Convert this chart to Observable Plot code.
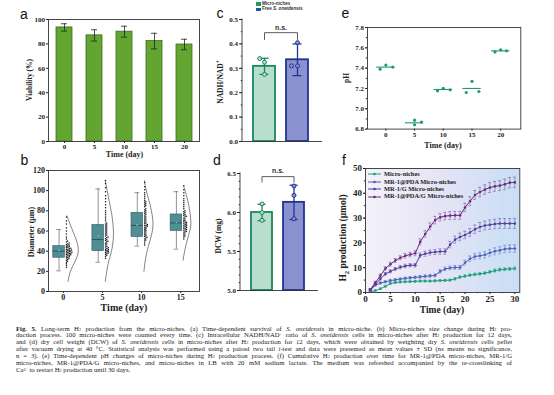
<!DOCTYPE html>
<html><head><meta charset="utf-8">
<script src="https://cdn.jsdelivr.net/npm/d3@7"></script>
<script src="https://cdn.jsdelivr.net/npm/@observablehq/plot@0.6"></script>
<style>
body{margin:0;background:#fff;}
#root{position:relative;width:554px;height:395px;overflow:hidden;font-family:"Liberation Serif",serif;color:#222;}
.plab{position:absolute;font-family:"Liberation Sans",Arial,sans-serif;font-size:14px;line-height:1;color:#111;}
.ax{position:absolute;font-family:"Liberation Serif",serif;font-weight:bold;white-space:nowrap;line-height:1;color:#222;}
.rot{transform:translate(-50%,-50%) rotate(-90deg);}
.cen{transform:translate(-50%,-50%);}
.leg{position:absolute;white-space:nowrap;line-height:1;}
.cap{position:absolute;left:16px;top:325.5px;width:496px;font-family:"Liberation Serif",serif;font-size:6.7px;line-height:6.95px;color:#222;}
.cap div{white-space:nowrap;text-align:justify;text-align-last:justify;height:6.95px;overflow:visible;}
.cap div.last{text-align-last:left;}
.cap .sb{font-size:0.62em;line-height:0;vertical-align:-0.12em;}
.cap .sp{font-size:0.62em;line-height:0;vertical-align:0.32em;}
</style></head><body><div id="root"></div>
<script>
// ---------- data ----------
// (a) viability
const aDays = ["0", "5", "10", "15", "20"];
const aViability = [93.5, 87, 90, 82.3, 79.5];
const aViabilitySD = [3, 4.6, 4.5, 6.4, 4.3];

// (b) diameter box stats
const bDays = [0, 5, 10, 15];
const bQ1 = [33.5, 40, 54, 60];
const bMedian = [40, 51.5, 65.5, 68];
const bQ3 = [45, 66, 78, 76.4];
const bWhiskLo = [20.5, 29, 45, 42];
const bWhiskHi = [61.5, 101.7, 98, 99];
const bMean = [41, 55, 66, 68.5];
// (b) individual diameters (µm)
const bDiam0 = [24,26,27.5,29,30,31,32,32.6,33.3,33.8,34.4,35,35.5,36,36.4,36.8,37.2,37.6,38,38.3,38.7,39,39.4,39.8,40.1,40.5,40.9,41.2,41.6,42,42.4,42.8,43.3,43.8,44.3,44.8,45.4,46,46.6,47.2,48,49,50,52,54,57,60,63,67,70,74];
const bDiam5 = [33,35,36,37,37.6,38.2,38.8,39.3,39.8,40.3,40.8,41.4,42,42.7,43.4,44.2,45,46,47,48,49,49.8,50.6,51.4,52.3,53.2,54,55,56,57,58,59,60,61,62,63,64,65,66,67,68,70,72,74,76,78,80,83,86,89,92,95,99,103,107,110];
const bDiam10 = [46,48,50,51,52,53,53.8,54.6,55.4,56.2,57,58,59,60,60.8,61.6,62.4,63.2,64,64.6,65.2,65.8,66.5,67.2,68,69,70,71,72,73,74,75,76,77,78,79,80,81,82,84,85,86,87,88,89,90,92,94,96,98,101,104,108];
const bDiam15 = [52,54,55,56,57,58,59,59.6,60.3,61,61.6,62.2,62.8,63.4,64,64.6,65.2,65.8,66.4,67,67.6,68.2,68.8,69.5,70.2,71,72,73,74,74.6,75.3,76,77,78,79,80,82,84,86,88,90,92,95,98,101,105];
// (b) fitted distribution curves: diameter vs relative density
const bCurve0Y = [10,20,30,40,50,60,70,75];
const bCurve0D = [0.3,0.6,1.2,1.6,1.4,0.9,0.4,0.15];
const bCurve5Y = [10,20,30,40,55,70,80,90,100,110];
const bCurve5D = [0.05,0.25,0.5,0.85,1.1,1.0,0.8,0.55,0.3,0.05];
const bCurve10Y = [20,30,40,50,65,80,90,100,110];
const bCurve10D = [0,0.15,0.4,0.75,1.15,0.95,0.65,0.3,0.05];
const bCurve15Y = [31,40,50,60,68,80,90,100,105];
const bCurve15D = [0,0.2,0.5,0.85,1.0,0.85,0.6,0.25,0.05];

// (c) NADH/NAD+
const cGroups = ["Micro-niches", "Free S. oneidensis"];
const cMean = [0.308, 0.335];
const cSD = [0.033, 0.065];
const cPoints0 = [0.325, 0.275, 0.34];
const cPoints1 = [0.405, 0.31, 0.31];
const cBracket = [0.418, 0.446];

// (d) DCW
const dMean = [6.0, 6.13];
const dSD = [0.105, 0.22];
const dPoints0 = [6.11, 6.0, 5.9];
const dPoints1 = [6.34, 6.22, 5.92];
const dBracket = [6.39, 6.46];

// (e) pH
const eDays = [0, 5, 10, 15, 20];
const eMean = [7.41, 6.862, 7.19, 7.2, 7.57];
const eX = [[-1, 0, 1.2], [5, 5, 6.2], [9, 10, 11.2], [14, 15, 16.2], [19, 20, 21]];
const eY = [[7.39, 7.43, 7.41], [6.888, 6.843, 6.869], [7.177, 7.2, 7.187], [7.16, 7.27, 7.17], [7.56, 7.58, 7.57]];

// (f) cumulative H2
const fDays = [1,2,3,4,5,6,7,8,9,10,11,12,13,14,15,16,17,18,19,20,21,22,23,24,25,26,27,28,29,30];
const fSeries = ["Micro-niches", "MR-1@PDA Micro-niches", "MR-1/G Micro-niches", "MR-1@PDA/G Micro-niches"];
const fMicro = [0.3,0.8,1.5,2.5,3.6,4.0,4.2,4.3,4.4,4.5,4.6,4.6,4.6,4.7,4.8,4.9,5.0,5.5,6.2,6.6,7.0,7.3,7.5,7.8,8.3,8.8,9.2,9.4,9.5,9.7];
const fPDA = [1.0,3.0,3.8,4.3,4.8,5.1,5.4,5.7,5.9,6.1,6.3,6.5,6.7,6.9,8.5,9.5,9.9,10.1,10.1,12.0,13.6,14.5,14.8,15.2,16.0,16.6,17.0,17.5,17.7,17.7];
const fG = [1.0,3.3,5.5,7.5,8.5,9.5,10.2,10.7,11.0,11.0,15.0,15.6,16.1,16.3,16.5,16.5,19.3,21.3,22.4,23.2,24.2,25.5,26.4,27.0,27.3,27.6,27.8,27.8,27.8,27.8];
const fPDAG = [1.3,4.0,6.8,9.7,11.4,12.9,14.0,14.8,15.3,15.8,20.4,23.6,26.6,29.2,30.3,30.8,31.0,31.1,31.1,34.3,36.8,39.3,40.5,41.5,42.3,42.8,43.1,43.6,44.3,44.4];
const fMicroSD = [0.2,0.3,0.3,0.4,0.4,0.4,0.4,0.4,0.4,0.4,0.4,0.4,0.4,0.4,0.4,0.4,0.4,0.5,0.5,0.5,0.5,0.5,0.5,0.5,0.5,0.6,0.6,0.6,0.6,0.6];
const fPDASD = [0.3,0.4,0.5,0.5,0.5,0.5,0.5,0.5,0.5,0.5,0.6,0.6,0.6,0.6,0.7,0.7,0.7,0.8,0.8,1.0,1.1,1.2,1.2,1.3,1.3,1.4,1.4,1.5,1.5,1.5];
const fGSD = [0.3,0.4,0.5,0.6,0.6,0.6,0.7,0.7,0.7,0.7,0.9,1.0,1.0,1.0,1.1,1.1,1.3,1.4,1.5,1.5,1.6,1.7,1.8,1.8,1.9,1.9,2.0,2.0,2.0,2.0];
const fPDAGSD = [0.3,0.5,0.6,0.7,0.8,0.8,0.8,0.9,0.9,1.0,1.2,1.3,1.4,1.5,1.5,1.5,1.6,1.6,1.6,1.7,1.8,1.8,1.9,1.9,2.0,2.0,2.0,2.1,2.1,2.1];

// ---------- helpers ----------
const root = document.getElementById("root");
const NS = "http://www.w3.org/2000/svg";
function mount(frame, m, opts, style) {
  const [x0, y0, x1, y1] = frame; const [mt, mr, mb, ml] = m;
  const W = x1 - x0 + ml + mr, H = y1 - y0 + mt + mb;
  const svg = Plot.plot(Object.assign({}, opts, {
    width: W, height: H, marginTop: mt, marginRight: mr, marginBottom: mb, marginLeft: ml,
    style: Object.assign({background: "transparent", overflow: "visible", fontFamily: "'Liberation Serif', serif", fontWeight: "bold", fontSize: "7px", color: "#222"}, style || {})
  }));
  const div = document.createElement("div");
  div.style.cssText = `position:absolute;left:${x0 - ml}px;top:${y0 - mt}px;width:${W}px;height:${H}px;`;
  div.appendChild(svg); root.appendChild(div);
}
function html(cls, h, x, y, css) {
  const d = document.createElement("div");
  d.className = cls; d.innerHTML = h;
  d.style.left = x + "px"; d.style.top = y + "px";
  if (css) d.style.cssText += css;
  root.appendChild(d); return d;
}
function dodgeAt(data, opts, anchor, padding, target) {
  return Plot.dot(data, Plot.initializer(Plot.dodgeX({anchor, padding}, opts), (d, f, ch, scales, dims) => {
    const base = anchor === "left" ? dims.marginLeft : (dims.marginLeft + dims.width - dims.marginRight) / 2;
    const off = target(scales) - base;
    const X = ch.x.value ?? ch.x;
    return {data: d, facets: f, channels: {x: {value: Float64Array.from(X, v => v + off)}}};
  }));
}
function leftLine(stroke, sw) {
  return (index, scales, values, dims) => {
    const l = document.createElementNS(NS, "line");
    l.setAttribute("x1", dims.marginLeft); l.setAttribute("x2", dims.marginLeft);
    l.setAttribute("y1", dims.marginTop - 0.5); l.setAttribute("y2", dims.height - dims.marginBottom + 0.5);
    l.setAttribute("stroke", stroke); l.setAttribute("stroke-width", sw);
    return l;
  };
}
const range = (a, b, s) => d3.range(a, b + s / 2, s);
const minorY = (ticks) => Plot.axisY({ticks, tickSize: 1.2, tickFormat: () => "", label: null});
const minorX = (ticks) => Plot.axisX({ticks, tickSize: 1.2, tickFormat: () => "", label: null});

// ---------- (a) ----------
const aData = aDays.map((d, i) => ({day: d, v: aViability[i], sd: aViabilitySD[i]}));
mount([48, 19, 199, 141], [6, 6, 20, 30], {
  x: {type: "band", domain: aDays, paddingInner: 0.48, paddingOuter: 0.195},
  y: {domain: [0, 100]},
  marks: [
    Plot.barY(aData, {x: "day", y: "v", fill: "#63a531", stroke: "#3c6d1d", strokeWidth: 0.8}),
    Plot.ruleX(aData, {x: "day", y1: d => d.v - d.sd, y2: d => d.v + d.sd, stroke: "#222", strokeWidth: 0.8}),
    Plot.tickY(aData, {x: "day", y: d => d.v + d.sd, insetLeft: 5, insetRight: 5, stroke: "#222", strokeWidth: 0.8}),
    Plot.tickY(aData, {x: "day", y: d => d.v - d.sd, insetLeft: 5, insetRight: 5, stroke: "#222", strokeWidth: 0.8}),
    Plot.axisY({ticks: [0, 20, 40, 60, 80, 100], tickSize: 2, tickPadding: 1.5, label: null, fontSize: 7}),
    Plot.axisX({tickSize: 2, tickPadding: 1, label: null, fontSize: 7}),
    Plot.frame({stroke: "#333", strokeWidth: 0.9})
  ]
});

// ---------- (b) ----------
const bStats = bDays.map((d, i) => ({day: d, q1: bQ1[i], med: bMedian[i], q3: bQ3[i], lo: bWhiskLo[i], hi: bWhiskHi[i], mean: bMean[i]}));
const bDiams = [bDiam0, bDiam5, bDiam10, bDiam15];
const bCurves = [[bCurve0Y, bCurve0D], [bCurve5Y, bCurve5D], [bCurve10Y, bCurve10D], [bCurve15Y, bCurve15D]];
const BOX = -0.55, HALF = 0.74, SW = 0.3;
const bMarks = [
  Plot.ruleX(bStats, {x: d => d.day + BOX, y1: "lo", y2: "hi", stroke: "#666", strokeWidth: 0.7}),
  Plot.ruleY(bStats, {y: "hi", x1: d => d.day + BOX - 0.3, x2: d => d.day + BOX + 0.3, stroke: "#666", strokeWidth: 0.7}),
  Plot.ruleY(bStats, {y: "lo", x1: d => d.day + BOX - 0.3, x2: d => d.day + BOX + 0.3, stroke: "#666", strokeWidth: 0.7}),
  Plot.rect(bStats, {x1: d => d.day + BOX - HALF, x2: d => d.day + BOX + HALF, y1: "q1", y2: "q3", fill: "#4f8e95", stroke: "#2f5d62", strokeWidth: 0.6}),
  Plot.ruleY(bStats, {y: "med", x1: d => d.day + BOX - HALF, x2: d => d.day + BOX + HALF, stroke: "#1d3b3f", strokeWidth: 0.7}),
  Plot.dot(bStats, {x: d => d.day + BOX, y: "mean", symbol: "square", r: 1.1, fill: "#9fc4c7", stroke: "#2f5d62", strokeWidth: 0.3})
];
bDays.forEach((day, k) => {
  bMarks.push(dodgeAt(bDiams[k].map(v => ({v})), {y: "v", r: 0.75, fill: "#111"}, "left", 0, s => s.x(day + SW)));
  const [cy, cd] = bCurves[k];
  bMarks.push(Plot.line(cy.map((y, i) => ({y, w: cd[i]})), {x: d => day + SW + d.w, y: "y", curve: "natural", stroke: "#333", strokeWidth: 0.6}));
});
bMarks.push(
  Plot.axisY({ticks: range(0, 120, 20), tickSize: 2, tickPadding: 1.5, label: null, fontSize: 8}),
  Plot.axisX({ticks: bDays, tickSize: 2, tickPadding: 1, label: null, fontSize: 8}),
  Plot.frame({stroke: "#333", strokeWidth: 0.9})
);
mount([48, 170, 199, 291], [6, 6, 20, 30], {
  x: {domain: [-1.9, 17.4]},
  y: {domain: [0, 120]},
  marks: bMarks
});

// ---------- (c) & (d) ----------
const fillC = ["#b7dece", "#8b90cf"], strokeC = ["#1b875a", "#1f3592"];
function barPanel(frame, yDom, ticks, minor, fmt, means, sds, pts, bracket, nsY) {
  const data = cGroups.map((g, i) => ({g, m: means[i], sd: sds[i]}));
  const marks = [];
  cGroups.forEach((g, i) => {
    const di = [data[i]];
    marks.push(
      Plot.barY(di, {x: "g", y1: yDom[0], y2: "m", fill: fillC[i], stroke: strokeC[i], strokeWidth: 1.8}),
      Plot.ruleX(di, {x: "g", y1: d => d.m - d.sd, y2: d => d.m + d.sd, stroke: strokeC[i], strokeWidth: 1.3}),
      Plot.tickY(di, {x: "g", y: d => d.m + d.sd, insetLeft: 6.5, insetRight: 6.5, stroke: strokeC[i], strokeWidth: 1.3}),
      Plot.tickY(di, {x: "g", y: d => d.m - d.sd, insetLeft: 6.5, insetRight: 6.5, stroke: strokeC[i], strokeWidth: 1.3}),
      dodgeAt(pts[i].map(v => ({v})), {y: "v", r: 2, fill: fillC[i], stroke: strokeC[i], strokeWidth: 1}, "middle", 2, s => s.x(g))
    );
  });
  marks.push(
    Plot.line([{g: cGroups[0], y: bracket[0]}, {g: cGroups[0], y: bracket[1]}, {g: cGroups[1], y: bracket[1]}, {g: cGroups[1], y: bracket[0]}], {x: "g", y: "y", stroke: "#333", strokeWidth: 0.8}),
    Plot.text([{t: "n.s.", y: nsY}], {text: "t", y: "y", dx: -1.5, fontFamily: "'Liberation Sans', Arial, sans-serif", fontWeight: "bold", fontSize: 7, fill: "#333"}),
    Plot.ruleY([yDom[0]], {stroke: "#333", strokeWidth: 0.9}),
    leftLine("#333", 0.9),
    minorY(minor),
    Plot.axisY({ticks, tickSize: 3, tickPadding: 1.5, tickFormat: fmt, label: null, fontSize: 7})
  );
  mount(frame, [6, 4, 6, 30], {
    x: {type: "band", domain: cGroups, paddingInner: 0.34, paddingOuter: 0.364, align: 0.43, axis: null},
    y: {domain: yDom},
    marks
  });
}
barPanel([242, 19, 322, 141], [0, 0.5], range(0, 0.5, 0.1), range(0, 0.5, 0.05), d3.format(".1f"), cMean, cSD, [cPoints0, cPoints1], cBracket, 0.468);
barPanel([240, 173, 318, 290], [5, 6.5], range(5, 6.5, 0.5), range(5, 6.5, 0.1), d3.format(".1f"), dMean, dSD, [dPoints0, dPoints1], dBracket, 6.53);

// ---------- (e) ----------
const eMeans = eDays.map((d, i) => ({day: d, m: eMean[i]}));
const ePts = eDays.flatMap((d, i) => eX[i].map((x, j) => ({x, y: eY[i][j]})));
mount([366.7, 26.7, 520, 128.3], [6, 6, 20, 30], {
  x: {domain: [-3.2, 23.5]},
  y: {domain: [6.8, 7.8]},
  marks: [
    Plot.ruleY(eMeans, {y: "m", x1: d => d.day - 1.6, x2: d => d.day + 1.6, stroke: "#1f9a6e", strokeWidth: 1.1}),
    Plot.dot(ePts, {x: "x", y: "y", r: 1.6, fill: "#1f9a6e"}),
    minorY(range(6.8, 7.8, 0.1)),
    Plot.axisY({ticks: range(6.8, 7.8, 0.2), tickSize: 2, tickPadding: 1.5, tickFormat: d3.format(".1f"), label: null, fontSize: 7}),
    Plot.axisX({ticks: eDays, tickSize: 2, tickPadding: 1, label: null, fontSize: 7}),
    Plot.frame({stroke: "#333", strokeWidth: 0.9})
  ]
});

// ---------- (f) ----------
const fColors = ["#1f9e7c", "#4c62b8", "#553d9c", "#6b2c7b"];
const fVals = [fMicro, fPDA, fG, fPDAG], fSDs = [fMicroSD, fPDASD, fGSD, fPDAGSD];
const fData = fSeries.flatMap((s, k) => fDays.map((d, i) => ({s, day: d, v: fVals[k][i], sd: fSDs[k][i]})));
const gradient = (index, scales, values, dims) => {
  const g = document.createElementNS(NS, "g");
  const w = dims.width - dims.marginLeft - dims.marginRight, h = dims.height - dims.marginTop - dims.marginBottom;
  g.innerHTML = `<defs><linearGradient id="fgrad" x1="0" x2="1" y1="0" y2="0"><stop offset="0" stop-color="#f4f1fa"/><stop offset="0.5" stop-color="#e4e4f6"/><stop offset="1" stop-color="#c8def5"/></linearGradient></defs><rect x="${dims.marginLeft}" y="${dims.marginTop}" width="${w}" height="${h}" fill="url(#fgrad)"/>`;
  return g;
};
mount([365, 167.7, 519.3, 291.7], [6, 6, 20, 30], {
  x: {domain: [0, 31]},
  y: {domain: [0, 50]},
  color: {domain: fSeries, range: fColors},
  marks: [
    gradient,
    Plot.ruleX(fData, {x: "day", y1: d => d.v - d.sd, y2: d => d.v + d.sd, stroke: "s", strokeOpacity: 0.75, strokeWidth: 0.6}),
    Plot.ruleY(fData, {y: d => d.v + d.sd, x1: d => d.day - 0.3, x2: d => d.day + 0.3, stroke: "s", strokeOpacity: 0.75, strokeWidth: 0.6}),
    Plot.ruleY(fData, {y: d => d.v - d.sd, x1: d => d.day - 0.3, x2: d => d.day + 0.3, stroke: "s", strokeOpacity: 0.75, strokeWidth: 0.6}),
    Plot.line(fData, {x: "day", y: "v", z: "s", stroke: "s", strokeWidth: 1}),
    Plot.dot(fData, {x: "day", y: "v", fill: "s", r: 1.3}),
    minorY(range(0, 50, 5)),
    Plot.axisY({ticks: range(0, 50, 10), tickSize: 2, tickPadding: 1.5, label: null, fontSize: 9}),
    minorX(range(0, 30, 2.5)),
    Plot.axisX({ticks: range(0, 30, 5), tickSize: 2, tickPadding: 1, label: null, fontSize: 9}),
    Plot.frame({stroke: "#333", strokeWidth: 0.9})
  ]
});

// legend (f)
fSeries.forEach((s, i) => {
  const y = 174.3 + i * 7.4;
  html("leg", `<svg width="14" height="6" style="display:block"><line x1="0" x2="13" y1="3" y2="3" stroke="${fColors[i]}" stroke-width="1"/><circle cx="6.5" cy="3" r="1.3" fill="${fColors[i]}"/></svg>`, 367.5, y - 3);
  html("ax", s, 384, y - 3.2, "font-size:6.4px;");
});
// legend (c)
cGroups.forEach((g, i) => {
  const y = 4 + i * 5.6;
  const sq = ["#1d9a60", "#1f56b6"][i];
  html("leg", `<div style="width:4.5px;height:3.6px;background:${sq}"></div>`, 256, y - 1.8);
  const txt = i === 0 ? "Micro-niches" : "Free <i>S. oneidensis</i>";
  html("leg", txt, 262, y - 2.5, `font-family:'Liberation Sans',Arial,sans-serif;font-weight:bold;font-size:4.6px;color:#333;`);
});

// panel letters
[["a", 20, 6.5], ["b", 20.5, 153], ["c", 216.5, 5.5], ["d", 213, 153], ["e", 341.5, 5.5], ["f", 342, 153]].forEach(([t, x, y]) => html("plab", t, x, y));

// axis titles
html("ax cen", "Time (day)", 124.5, 155, "font-size:8px;");
html("ax cen", "Time (day)", 124, 307.5, "font-size:10px;");
html("ax cen", "Time (day)", 443, 145.5, "font-size:8px;");
html("ax cen", "Time (day)", 442, 310.5, "font-size:9.5px;");
html("ax rot", "Viability (%)", 29.5, 80, "font-size:7.5px;");
html("ax rot", "Diameter (μm)", 31.5, 232, "font-size:8px;");
html("ax rot", "NADH/NAD<sup style='font-size:0.7em'>+</sup>", 219.5, 82, "font-size:7.5px;");
html("ax rot", "DCW (mg)", 218.5, 236, "font-size:7.5px;");
html("ax rot", "pH", 346.5, 77.5, "font-size:7.5px;");
html("ax rot", "H<sub style='font-size:0.7em'>2</sub> production (μmol)", 345, 238, "font-size:9.5px;");

// caption
const capLines = [
  "<b>Fig. 5.</b> Long-term H<sub>2</sub> production from the micro-niches. (a) Time-dependent survival of <i>S. oneidensis</i> in micro-niche. (b) Micro-niches size change during H<sub>2</sub> pro-",
  "duction process. 100 micro-niches were counted every time. (c) Intracellular NADH/NAD<sup>+</sup> ratio of <i>S. oneidensis</i> cells in micro-niches after H<sub>2</sub> production for 12 days,",
  "and (d) dry cell weight (DCW) of <i>S. oneidensis</i> cells in micro-niches after H<sub>2</sub> production for 12 days, which were obtained by weighting dry <i>S. oneidensis</i> cells pellet",
  "after vacuum drying at 40 °C. Statistical analysis was performed using a paired two tail <i>t</i>-test and data were presented as mean values ± SD (ns means no significance,",
  "n = 3). (e) Time-dependent pH changes of micro-niches during H<sub>2</sub> production process. (f) Cumulative H<sub>2</sub> production over time for MR-1@PDA micro-niches, MR-1/G",
  "micro-niches, MR-1@PDA/G micro-niches, and micro-niches in LB with 20 mM sodium lactate. The medium was refreshed accompanied by the re-crosslinking of",
  "Ca<sup>2+</sup> to restart H<sub>2</sub> production until 30 days."
];
const cap = document.createElement("div");
cap.className = "cap";
cap.innerHTML = capLines.map((l, i) => `<div class="${i === capLines.length - 1 ? "last" : ""}">${l.replace(/<sub>(.*?)<\/sub>/g, "<span class='sb'>$1</span>").replace(/<sup>(.*?)<\/sup>/g, "<span class='sp'>$1</span>")}</div>`).join("");
root.appendChild(cap);
</script></body></html>
